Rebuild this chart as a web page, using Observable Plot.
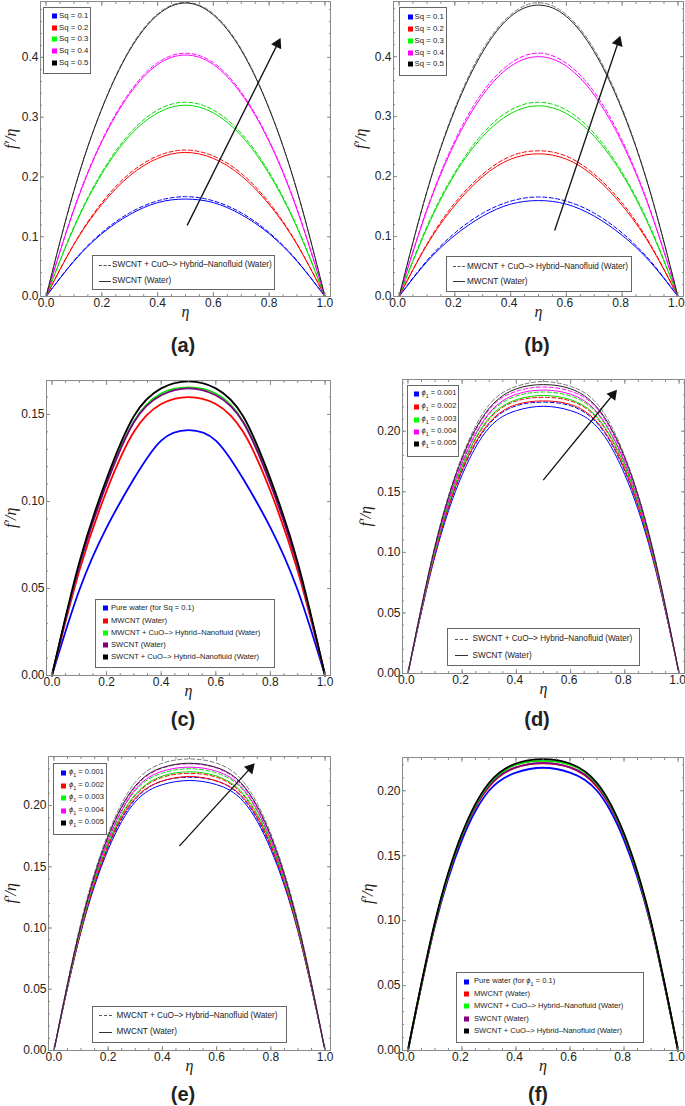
<!DOCTYPE html>
<html><head><meta charset="utf-8">
<script src="https://cdn.jsdelivr.net/npm/d3@7"></script>
<script src="https://cdn.jsdelivr.net/npm/@observablehq/plot@0.6"></script>
<style>
html,body{margin:0;padding:0;background:#fff;}
#root{position:relative;width:685px;height:1106px;overflow:hidden;font-family:"Liberation Sans",Arial,sans-serif;color:#222;}
#root svg{position:absolute;overflow:visible;}
.plab{position:absolute;font-weight:bold;font-size:20px;transform:translate(-50%,-50%);white-space:nowrap;}
.leg{position:absolute;border:1px solid #666;background:#fff;box-sizing:border-box;}
.lt{position:absolute;white-space:nowrap;transform:translateY(-50%);line-height:1;color:#222;}
.sq{position:absolute;width:5px;height:5px;transform:translateY(-50%);}
.smp{position:absolute;height:0;}
</style></head><body><div id="root"></div>
<script>
// ---------- shared grid / ticks ----------
const eta = [0, 0.1, 0.2, 0.3, 0.4, 0.5, 0.6, 0.7, 0.8, 0.9, 1.0];
const xTicks = [0, 0.2, 0.4, 0.6, 0.8, 1.0];
const yTicksAB = [0, 0.1, 0.2, 0.3, 0.4];
const yTicksC = [0, 0.05, 0.10, 0.15];
const yTicksDEF = [0, 0.05, 0.10, 0.15, 0.20];

// ---------- (a) SWCNT, Sq ----------
const a_sq01_swcnt  = [0,0.059,0.105,0.137,0.157,0.163,0.157,0.137,0.105,0.059,0];
const a_sq01_hybrid = [0,0.060,0.107,0.140,0.160,0.167,0.160,0.140,0.107,0.060,0];
const a_sq02_swcnt  = [0,0.087,0.154,0.202,0.231,0.241,0.231,0.202,0.154,0.087,0];
const a_sq02_hybrid = [0,0.088,0.157,0.206,0.235,0.245,0.235,0.206,0.157,0.088,0];
const a_sq03_swcnt  = [0,0.115,0.205,0.269,0.307,0.320,0.307,0.269,0.205,0.115,0];
const a_sq03_hybrid = [0,0.117,0.208,0.273,0.312,0.325,0.312,0.273,0.208,0.117,0];
const a_sq04_swcnt  = [0,0.145,0.259,0.339,0.388,0.404,0.388,0.339,0.259,0.145,0];
const a_sq04_hybrid = [0,0.147,0.261,0.342,0.391,0.407,0.391,0.342,0.261,0.147,0];
const a_sq05_swcnt  = [0,0.177,0.314,0.412,0.471,0.491,0.471,0.412,0.314,0.177,0];
const a_sq05_hybrid = [0,0.177,0.315,0.414,0.473,0.492,0.473,0.414,0.315,0.177,0];
const a_arrow = [0.506, 0.119, 0.836, 0.428];

// ---------- (b) MWCNT, Sq ----------
const b_sq01_mwcnt  = [0,0.058,0.102,0.134,0.154,0.160,0.154,0.134,0.102,0.058,0];
const b_sq01_hybrid = [0,0.060,0.106,0.139,0.159,0.166,0.159,0.139,0.106,0.060,0];
const b_sq02_mwcnt  = [0,0.086,0.152,0.200,0.229,0.238,0.229,0.200,0.152,0.086,0];
const b_sq02_hybrid = [0,0.088,0.156,0.204,0.234,0.243,0.234,0.204,0.156,0.088,0];
const b_sq03_mwcnt  = [0,0.114,0.204,0.267,0.305,0.318,0.305,0.267,0.204,0.114,0];
const b_sq03_hybrid = [0,0.117,0.207,0.272,0.311,0.324,0.311,0.272,0.207,0.117,0];
const b_sq04_mwcnt  = [0,0.144,0.256,0.336,0.384,0.400,0.384,0.336,0.256,0.144,0];
const b_sq04_hybrid = [0,0.146,0.260,0.341,0.389,0.406,0.389,0.341,0.260,0.146,0];
const b_sq05_mwcnt  = [0,0.175,0.311,0.408,0.467,0.486,0.467,0.408,0.311,0.175,0];
const b_sq05_hybrid = [0,0.176,0.314,0.412,0.470,0.490,0.470,0.412,0.314,0.176,0];
const b_arrow = [0.558, 0.110, 0.790, 0.430];

// ---------- (c) comparison, Sq = 0.1 ----------
const c_pure          = [0,0.049,0.085,0.113,0.135,0.141,0.135,0.113,0.085,0.049,0];
const c_mwcnt         = [0,0.060,0.106,0.140,0.156,0.160,0.156,0.140,0.106,0.060,0];
const c_mwcnt_hybrid  = [0,0.063,0.111,0.146,0.162,0.1655,0.162,0.146,0.111,0.063,0];
const c_swcnt         = [0,0.063,0.110,0.1455,0.161,0.165,0.161,0.1455,0.110,0.063,0];
const c_swcnt_hybrid  = [0,0.065,0.113,0.149,0.165,0.169,0.165,0.149,0.113,0.065,0];

// ---------- (d) SWCNT, phi1 ----------
const d_p1_swcnt  = [0,0.097,0.164,0.203,0.217,0.2206,0.217,0.203,0.164,0.097,0];
const d_p1_hybrid = [0,0.099,0.167,0.206,0.221,0.224,0.221,0.206,0.167,0.099,0];
const d_p2_swcnt  = [0,0.099,0.168,0.207,0.222,0.225,0.222,0.207,0.168,0.099,0];
const d_p2_hybrid = [0,0.100,0.170,0.210,0.225,0.228,0.225,0.210,0.170,0.100,0];
const d_p3_swcnt  = [0,0.101,0.171,0.211,0.226,0.2295,0.226,0.211,0.171,0.101,0];
const d_p3_hybrid = [0,0.102,0.173,0.214,0.229,0.2324,0.229,0.214,0.173,0.102,0];
const d_p4_swcnt  = [0,0.103,0.174,0.215,0.2305,0.234,0.2305,0.215,0.174,0.103,0];
const d_p4_hybrid = [0,0.104,0.176,0.218,0.233,0.2365,0.233,0.218,0.176,0.104,0];
const d_p5_swcnt  = [0,0.105,0.178,0.219,0.235,0.2385,0.235,0.219,0.178,0.105,0];
const d_p5_hybrid = [0,0.106,0.1795,0.222,0.237,0.241,0.237,0.222,0.1795,0.106,0];
const d_arrow = [0.499, 0.1596, 0.764, 0.2324];

// ---------- (e) MWCNT, phi1 ----------
const e_p1_mwcnt  = [0,0.097,0.164,0.203,0.217,0.2204,0.217,0.203,0.164,0.097,0];
const e_p1_hybrid = [0,0.098,0.166,0.205,0.220,0.223,0.220,0.205,0.166,0.098,0];
const e_p2_mwcnt  = [0,0.098,0.167,0.206,0.220,0.2237,0.220,0.206,0.167,0.098,0];
const e_p2_hybrid = [0,0.0995,0.1685,0.208,0.223,0.2262,0.223,0.208,0.1685,0.0995,0];
const e_p3_mwcnt  = [0,0.100,0.1695,0.209,0.224,0.2275,0.224,0.209,0.1695,0.100,0];
const e_p3_hybrid = [0,0.101,0.171,0.212,0.2265,0.230,0.2265,0.212,0.171,0.101,0];
const e_p4_mwcnt  = [0,0.102,0.172,0.213,0.228,0.2313,0.228,0.213,0.172,0.102,0];
const e_p4_hybrid = [0,0.103,0.174,0.215,0.2305,0.234,0.2305,0.215,0.174,0.103,0];
const e_p5_mwcnt  = [0,0.103,0.175,0.216,0.231,0.2345,0.231,0.216,0.175,0.103,0];
const e_p5_hybrid = [0,0.105,0.177,0.219,0.2345,0.238,0.2345,0.219,0.177,0.105,0];
const e_arrow = [0.4625, 0.1668, 0.733, 0.2326];

// ---------- (f) comparison, phi1 = 0.1 ----------
const f_pure         = [0,0.096,0.162,0.200,0.214,0.2177,0.214,0.200,0.162,0.096,0];
const f_mwcnt        = [0,0.097,0.165,0.203,0.218,0.221,0.218,0.203,0.165,0.097,0];
const f_mwcnt_hybrid = [0,0.098,0.166,0.205,0.220,0.223,0.220,0.205,0.166,0.098,0];
const f_swcnt        = [0,0.0975,0.165,0.204,0.218,0.2215,0.218,0.204,0.165,0.0975,0];
const f_swcnt_hybrid = [0,0.099,0.167,0.206,0.221,0.2244,0.221,0.206,0.167,0.099,0];

// ---------- legend labels ----------
const sqLabels = ["Sq = 0.1","Sq = 0.2","Sq = 0.3","Sq = 0.4","Sq = 0.5"];
const phiLabels = ["0.001","0.002","0.003","0.004","0.005"];
const cmpLabelsC = ["Pure water (for Sq = 0.1)","MWCNT (Water)","MWCNT + CuO–> Hybrid–Nanofluid (Water)","SWCNT (Water)","SWCNT + CuO–> Hybrid–Nanofluid (Water)"];
const cmpLabelsF = ["Pure water (for <i>ϕ</i><sub style='font-size:70%'>1</sub> = 0.1)","MWCNT (Water)","MWCNT + CuO–> Hybrid–Nanofluid (Water)","SWCNT (Water)","SWCNT + CuO–> Hybrid–Nanofluid (Water)"];

const COL = {blue:"#0000ff", red:"#ff0000", green:"#00dd00", magenta:"#ff00ff", black:"#222", dashblack:"#777", purple:"#800080"};
const LEGCOL = ["#0000ff","#ff0000","#00ff00","#ff00ff","#000000"];
const LEGCOL_CMP = ["#0000ff","#ff0000","#00ff00","#800080","#000000"];

function pairs(list){ // list of [solid, dashed, color]
  const out = [];
  for (const [s,d,c] of list){
    out.push({v:d, c: c===COL.black ? COL.dashblack : c, dash:true});
    out.push({v:s, c});
  }
  return out;
}

const panels = [
  {id:"(a)", box:{L:40,R:330,T:1,B:296}, y:[0,0.4935], yT:yTicksAB, yMinorStep:0.02, fmt:1, lw:1, ylab:30,
   series:pairs([[a_sq01_swcnt,a_sq01_hybrid,COL.blue],[a_sq02_swcnt,a_sq02_hybrid,COL.red],[a_sq03_swcnt,a_sq03_hybrid,COL.green],[a_sq04_swcnt,a_sq04_hybrid,COL.magenta],[a_sq05_swcnt,a_sq05_hybrid,COL.black]]),
   arrow:a_arrow, lab:[183,345]},
  {id:"(b)", box:{L:393,R:683,T:1,B:296}, y:[0,0.492], yT:yTicksAB, yMinorStep:0.02, fmt:1, lw:1, ylab:33,
   series:pairs([[b_sq01_mwcnt,b_sq01_hybrid,COL.blue],[b_sq02_mwcnt,b_sq02_hybrid,COL.red],[b_sq03_mwcnt,b_sq03_hybrid,COL.green],[b_sq04_mwcnt,b_sq04_hybrid,COL.magenta],[b_sq05_mwcnt,b_sq05_hybrid,COL.black]]),
   arrow:b_arrow, lab:[537,345]},
  {id:"(c)", box:{L:46,R:330,T:380,B:675}, y:[0,0.1695], yT:yTicksC, yMinorStep:0.01, fmt:2, lw:1.8, ylab:36,
   series:[{v:c_pure,c:COL.blue},{v:c_mwcnt,c:COL.red},{v:c_mwcnt_hybrid,c:COL.green},{v:c_swcnt,c:COL.purple},{v:c_swcnt_hybrid,c:"#000"}],
   arrow:null, lab:[183,719]},
  {id:"(d)", box:{L:402,R:684,T:379,B:673}, y:[0,0.2427], yT:yTicksDEF, yMinorStep:0.01, fmt:2, lw:1, ylab:37,
   series:pairs([[d_p1_swcnt,d_p1_hybrid,COL.blue],[d_p2_swcnt,d_p2_hybrid,COL.red],[d_p3_swcnt,d_p3_hybrid,COL.green],[d_p4_swcnt,d_p4_hybrid,COL.magenta],[d_p5_swcnt,d_p5_hybrid,COL.black]]),
   arrow:d_arrow, lab:[537,719]},
  {id:"(e)", box:{L:48,R:330,T:756,B:1050}, y:[0,0.240], yT:yTicksDEF, yMinorStep:0.01, fmt:2, lw:1, ylab:38,
   series:pairs([[e_p1_mwcnt,e_p1_hybrid,COL.blue],[e_p2_mwcnt,e_p2_hybrid,COL.red],[e_p3_mwcnt,e_p3_hybrid,COL.green],[e_p4_mwcnt,e_p4_hybrid,COL.magenta],[e_p5_mwcnt,e_p5_hybrid,COL.black]]),
   arrow:e_arrow, lab:[183,1094]},
  {id:"(f)", box:{L:402,R:683,T:757,B:1050}, y:[0,0.2256], yT:yTicksDEF, yMinorStep:0.01, fmt:2, lw:1.8, ylab:35,
   series:[{v:f_pure,c:COL.blue},{v:f_mwcnt,c:COL.red},{v:f_swcnt,c:COL.purple},{v:f_mwcnt_hybrid,c:COL.green},{v:f_swcnt_hybrid,c:"#000"}],
   arrow:null, lab:[538,1094]}
];

const root = document.getElementById("root");
const FRAME = "#8a8a8a";

function drawPanel(p){
  const {L,R,T,B} = p.box;
  const mL=44, mR=6, mT=6, mB=44;
  const width = R-L+mL+mR, height = B-T+mT+mB;
  const xMinor = d3.range(0, 1.0001, 0.05);
  const yMinor = d3.range(0, p.y[1], p.yMinorStep);
  const noText = () => "";
  const marks = [];
  for (const s of p.series){
    const rows = eta.map((e,i)=>({eta:e, v:s.v[i]}));
    marks.push(Plot.line(rows, {x:"eta", y:"v", stroke:s.c, strokeWidth:p.lw, strokeDasharray: s.dash ? "4,2.5" : null, curve:"natural"}));
  }
  if (p.arrow){
    const [x1,y1,x2,y2] = p.arrow;
    const kx = (R-L)/1.04, ky = (B-T)/(p.y[1]-p.y[0]);
    const dxp = (x2-x1)*kx, dyp = -(y2-y1)*ky;
    const len = Math.hypot(dxp,dyp), ux = dxp/len, uy = dyp/len;
    const theta = Math.atan2(dxp, -dyp)*180/Math.PI;
    marks.push(Plot.link([{x1,y1,x2,y2}], {x1:"x1",y1:"y1",x2:"x2",y2:"y2", stroke:"#111", strokeWidth:1.3}));
    marks.push(Plot.dot([{x:x2,y:y2}], {x:"x", y:"y", symbol:"triangle", r:4.2, fill:"#111", stroke:"none", rotate:theta, dx:-ux*3.5, dy:-uy*3.5}));
  }
  const lblDx = R > 680 ? -1.5 : 0;
  marks.push(
    Plot.frame({stroke:FRAME}),
    Plot.axisX({anchor:"bottom", ticks:xMinor, tickSize:-2, tickFormat:noText, label:null, stroke:FRAME}),
    Plot.axisX({anchor:"bottom", ticks:xTicks, tickSize:-4, tickFormat:noText, label:null, stroke:FRAME}),
    Plot.axisX({anchor:"top", ticks:xMinor, tickSize:-2, tickFormat:noText, label:null, stroke:FRAME}),
    Plot.axisX({anchor:"top", ticks:xTicks, tickSize:-4, tickFormat:noText, label:null, stroke:FRAME}),
    Plot.axisY({anchor:"left", ticks:yMinor, tickSize:-2, tickFormat:noText, label:null, stroke:FRAME}),
    Plot.axisY({anchor:"left", ticks:p.yT, tickSize:-4, tickFormat:noText, label:null, stroke:FRAME}),
    Plot.axisY({anchor:"right", ticks:yMinor, tickSize:-2, tickFormat:noText, label:null, stroke:FRAME}),
    Plot.axisY({anchor:"right", ticks:p.yT, tickSize:-4, tickFormat:noText, label:null, stroke:FRAME}),
    Plot.axisX({anchor:"bottom", ticks:xTicks, tickSize:0, tickPadding:2, dx:lblDx, tickFormat:d=>d.toFixed(1), label:null, fill:"#222"}),
    Plot.axisY({anchor:"left", ticks:p.yT, tickSize:0, tickPadding:2, tickFormat:d=>d.toFixed(p.fmt), label:null, fill:"#222"}),
    Plot.text(["η"], {text:d=>d, frameAnchor:"bottom", dy:20, fontFamily:"Liberation Serif, serif", fontStyle:"italic", fontSize:16, fill:"#222"}),
    Plot.text(["f′/η"], {text:d=>d, frameAnchor:"left", dx:-p.ylab, rotate:-90, fontFamily:"Liberation Serif, serif", fontStyle:"italic", fontSize:16, fill:"#222"})
  );
  const svg = Plot.plot({
    width, height, marginLeft:mL, marginRight:mR, marginTop:mT, marginBottom:mB,
    x:{domain:[-0.02,1.02]}, y:{domain:p.y},
    style:{fontFamily:"Liberation Sans, Arial, sans-serif", fontSize:"12px", background:"transparent", color:"#222"},
    marks
  });
  svg.style.left = (L-mL)+"px";
  svg.style.top = (T-mT)+"px";
  root.appendChild(svg);
  const lab = document.createElement("div");
  lab.className="plab"; lab.textContent=p.id;
  lab.style.left=p.lab[0]+"px"; lab.style.top=p.lab[1]+"px";
  root.appendChild(lab);
}
panels.forEach(drawPanel);

// ---------- HTML legends ----------
function box(l,t,r,b){
  const d=document.createElement("div"); d.className="leg";
  Object.assign(d.style,{left:l+"px",top:t+"px",width:(r-l)+"px",height:(b-t)+"px"});
  root.appendChild(d);
}
function text(x,y,html,size){
  const d=document.createElement("div"); d.className="lt"; d.innerHTML=html;
  Object.assign(d.style,{left:x+"px",top:y+"px",fontSize:size+"px"});
  root.appendChild(d);
}
function square(x,y,c){
  const d=document.createElement("div"); d.className="sq";
  Object.assign(d.style,{left:x+"px",top:y+"px",background:c});
  root.appendChild(d);
}
function sample(x1,x2,y,dashed){
  const d=document.createElement("div"); d.className="smp";
  Object.assign(d.style,{left:x1+"px",top:(y-0.5)+"px",width:(x2-x1)+"px",borderTop: dashed ? "1px dashed #555" : "1px solid #333"});
  root.appendChild(d);
}
function squareLegend(b, rows, sqx, tx, labels, cols, size){
  box(...b);
  rows.forEach((y,i)=>{ square(sqx,y,cols[i]); text(tx,y,labels[i],size); });
}
function lineLegend(b, rows, sx1, sx2, tx, labels, size){
  box(...b);
  sample(sx1,sx2,rows[0],true); text(tx,rows[0],labels[0],size);
  sample(sx1,sx2,rows[1],false); text(tx,rows[1],labels[1],size);
}
const phiHtml = phiLabels.map(v=>`<i>ϕ</i><sub style="font-size:70%">1</sub> = ${v}`);
const swLeg = ["SWCNT + CuO–> Hybrid–Nanofluid (Water)","SWCNT (Water)"];
const mwLeg = ["MWCNT + CuO–> Hybrid–Nanofluid (Water)","MWCNT (Water)"];

squareLegend([43,7,91,74],[16,27.5,39.3,51,62.7],51.5,59,sqLabels,LEGCOL,7.8);
lineLegend([92,255,275,290],[265,281],99,111,112,swLeg,8.2);

squareLegend([399,7,447,76],[16.7,29,40.7,52.7,64.3],407.5,414.5,sqLabels,LEGCOL,7.8);
lineLegend([446,256,632,292],[266.7,281.7],453,465,467,mwLeg,8.2);

squareLegend([95,599,275,668],[608.3,620.5,632.7,644.8,657],103.3,111,cmpLabelsC,LEGCOL_CMP,7.6);

squareLegend([407,385,459,457],[394.3,407.3,420,432,444.3],414,421.5,phiHtml,LEGCOL,7.6);
lineLegend([447,628,640,666],[639.3,655.7],455,468,472.5,swLeg,8.2);

squareLegend([53,763,107,835],[772.7,785.7,798.3,810.7,822.7],61,69,phiHtml,LEGCOL,7.6);
lineLegend([92,1006,287,1043],[1015.7,1032.3],98.5,111.5,116.5,mwLeg,8.2);

squareLegend([456,972,644,1043],[981.7,993.8,1006,1018.5,1031],464,474,cmpLabelsF,LEGCOL_CMP,7.6);
</script></body></html>
